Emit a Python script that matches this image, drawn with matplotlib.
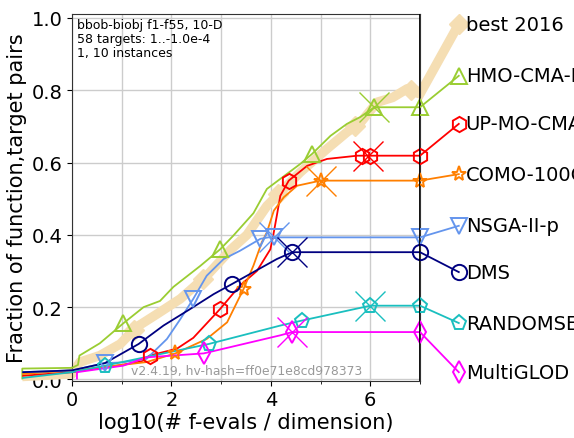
import matplotlib
matplotlib.use("Agg")
import matplotlib.pyplot as plt

# ECDF curves: log10(# f-evals / dimension) vs fraction of (function, target) pairs
best_x = [-1.0, 0.0, 0.16, 0.56, 0.97, 1.3, 1.7, 2.18, 2.71, 3.2, 3.52, 3.92, 4.59, 5.13, 5.53, 5.8, 6.14, 6.45, 6.74, 7.0]
best_y = [0.008, 0.015, 0.048, 0.066, 0.098, 0.145, 0.18, 0.223, 0.287, 0.36, 0.40, 0.48, 0.573, 0.638, 0.684, 0.71, 0.767, 0.78, 0.804, 0.79]
best_mx = [1.25, 2.64, 4.15, 5.7, 6.81]

hmo_x = [-1.0, -1.0, 0.0, 0.12, 0.15, 0.56, 1.03, 1.44, 1.77, 2.04, 2.58, 2.98, 3.24, 3.65, 3.92, 4.59, 4.83, 5.2, 5.53, 5.8, 6.08, 7.0]
hmo_y = [0.0, 0.03, 0.032, 0.04, 0.066, 0.10, 0.155, 0.20, 0.217, 0.256, 0.314, 0.36, 0.397, 0.46, 0.527, 0.596, 0.624, 0.674, 0.707, 0.726, 0.753, 0.753]
hmo_mx = [1.03, 2.98, 4.83, 6.08, 7.0]

upmo_x = [-1.0, 0.0, 1.0, 1.4, 1.56, 2.11, 2.44, 2.98, 3.38, 3.72, 3.99, 4.05, 4.12, 4.19, 4.36, 4.73, 5.13, 5.74, 7.0]
upmo_y = [0.01, 0.02, 0.04, 0.05, 0.066, 0.085, 0.115, 0.195, 0.26, 0.30, 0.36, 0.40, 0.453, 0.508, 0.55, 0.591, 0.61, 0.619, 0.619]
upmo_mx = [1.56, 2.98, 4.36, 5.83, 6.0, 7.0]

como_x = [-1.0, 0.0, 1.0, 1.5, 2.08, 2.71, 3.12, 3.45, 3.65, 3.82, 3.92, 4.06, 4.26, 4.53, 5.0, 7.0]
como_y = [0.015, 0.025, 0.04, 0.048, 0.072, 0.112, 0.158, 0.25, 0.315, 0.38, 0.407, 0.467, 0.504, 0.536, 0.55, 0.55]
como_mx = [2.08, 3.45, 5.0, 7.0]

nsga_x = [-1.0, 0.0, 0.66, 1.0, 1.5, 1.91, 2.18, 2.44, 2.71, 3.05, 3.38, 3.79, 3.95, 7.0]
nsga_y = [0.02, 0.025, 0.045, 0.047, 0.057, 0.112, 0.167, 0.223, 0.287, 0.333, 0.356, 0.389, 0.393, 0.393]
nsga_mx = [0.66, 2.44, 3.79, 4.06, 7.0]

dms_x = [-1.0, 0.0, 0.66, 1.34, 1.84, 2.38, 2.85, 3.22, 3.65, 4.12, 4.43, 7.0]
dms_y = [0.02, 0.025, 0.045, 0.098, 0.149, 0.195, 0.236, 0.264, 0.297, 0.333, 0.352, 0.352]
dms_mx = [1.34, 3.22, 4.43, 7.0]

rand_x = [-1.0, 0.0, 0.66, 2.75, 4.19, 4.63, 6.0, 7.0]
rand_y = [0.004, 0.02, 0.038, 0.098, 0.149, 0.163, 0.204, 0.204]
rand_mx = [0.66, 2.75, 4.63, 6.0, 7.0]

glod_x = [0.1, 0.1, 1.03, 1.5, 2.65, 4.19, 4.43, 7.0]
glod_y = [0.0, 0.02, 0.038, 0.061, 0.072, 0.122, 0.131, 0.131]
glod_mx = [2.65, 4.43, 7.0]

# median-run markers (x) per algorithm
cross_x = {"HMO": 6.08, "UPMO": 5.96, "COMO": 5.0, "NSGA": 4.06, "DMS": 4.43, "RAND": 6.0, "GLOD": 4.43}

labels = ["best 2016", "HMO-CMA-E", "UP-MO-CMA", "COMO-100C", "NSGA-II-p", "DMS", "RANDOMSEA", "MultiGLOD"]
label_y = [0.983, 0.84, 0.707, 0.568, 0.425, 0.297, 0.156, 0.02]
label_x = 7.78

fig = plt.figure(figsize=(5.74, 4.39), dpi=100)
ax = fig.add_axes([72 / 574, 1 - 381.5 / 439, 348 / 574, (381.5 - 15) / 439])

def interp(xs, ys, x):
    for i in range(len(xs) - 1):
        if xs[i] <= x <= xs[i + 1] and xs[i + 1] > xs[i]:
            t = (x - xs[i]) / (xs[i + 1] - xs[i])
            return ys[i] + t * (ys[i + 1] - ys[i])
    return ys[-1]

series = [
    ("best", best_x, best_y, best_mx, "wheat", "D", labels[0], label_y[0], None),
    ("HMO", hmo_x, hmo_y, hmo_mx, "yellowgreen", "^", labels[1], label_y[1], "HMO"),
    ("UPMO", upmo_x, upmo_y, upmo_mx, "red", "h", labels[2], label_y[2], "UPMO"),
    ("COMO", como_x, como_y, como_mx, "#ff7f00", "*", labels[3], label_y[3], "COMO"),
    ("NSGA", nsga_x, nsga_y, nsga_mx, "cornflowerblue", "v", labels[4], label_y[4], "NSGA"),
    ("DMS", dms_x, dms_y, dms_mx, "navy", "o", labels[5], label_y[5], "DMS"),
    ("RAND", rand_x, rand_y, rand_mx, "#1abfbf", "p", labels[6], label_y[6], "RAND"),
    ("GLOD", glod_x, glod_y, glod_mx, "magenta", "d", labels[7], label_y[7], "GLOD"),
]

for key, xs, ys, mx, col, mk, lab, ly, ck in series:
    is_best = key == "best"
    lw = 6.8 if is_best else 1.3
    z = 1 if is_best else 3
    ax.plot(xs, ys, color=col, lw=lw, clip_on=False, zorder=z, solid_capstyle="butt")
    my = [interp(xs, ys, v) for v in mx]
    # connector to the label on the right
    ax.plot([xs[-1], label_x], [ys[-1], ly], color=col, lw=lw, clip_on=False, zorder=z)
    if is_best:
        ax.plot(mx + [label_x], my + [ly], ls="none", marker=mk, ms=10, mfc=col, mec=col,
                clip_on=False, zorder=z)
    else:
        ax.plot(mx + [label_x], my + [ly], ls="none", marker=mk, ms=11, mfc="none", mec=col,
                mew=1.4, clip_on=False, zorder=z + 1)
    if ck is not None:
        cx = cross_x[ck]
        ax.plot([cx], [interp(xs, ys, cx)], ls="none", marker="x", ms=21, mec=col, mew=1.0,
                clip_on=False, zorder=z + 1)
    ax.text(label_x + 0.14, ly, lab, fontsize=14, va="center", ha="left", clip_on=False)

ax.axvline(7.0, color="black", lw=1.3, zorder=5)

ax.set_xlim(0, 7)
ax.set_ylim(-0.003, 1.011)
ax.set_xticks([0, 2, 4, 6])
ax.set_xticks([1, 3, 5, 7], minor=True)
ax.set_yticks([0.0, 0.2, 0.4, 0.6, 0.8, 1.0])
ax.tick_params(axis="both", which="major", labelsize=14)
ax.grid(True, which="both", color="#cccccc", lw=1.0)
ax.set_axisbelow(True)
for s in ax.spines.values():
    s.set_color("#333333")

ax.set_xlabel("log10(# f-evals / dimension)", fontsize=15)
ax.set_ylabel("Fraction of function,target pairs", fontsize=15)
ax.yaxis.set_label_coords(-0.13, 0.5)
ax.xaxis.set_label_coords(0.5, -0.086)

ax.text(0.015, 0.988, "bbob-biobj f1-f55, 10-D\n58 targets: 1..-1.0e-4\n1, 10 instances",
        transform=ax.transAxes, fontsize=9, va="top", ha="left", linespacing=1.08)
ax.text(1.19, 0.024, "v2.4.19, hv-hash=ff0e71e8cd978373", fontsize=8.9, color="#999999",
        va="center", ha="left")

fig.savefig("out.png", dpi=100)
